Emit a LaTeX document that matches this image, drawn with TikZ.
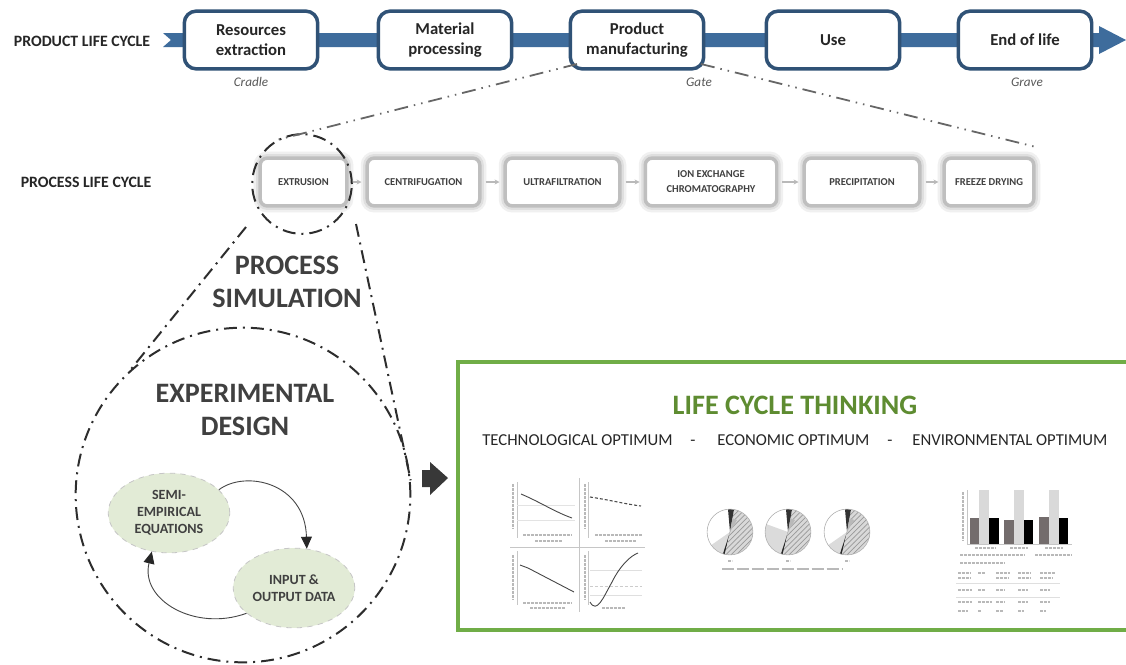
\documentclass[tikz,border=0pt]{standalone}
\usepackage{fontspec}
\setmainfont{Carlito}
\usetikzlibrary{arrows.meta,patterns,shapes.geometric}
\newdimen\pxu \pxu=0.5669pt
\definecolor{barblue}{RGB}{62,108,156}
\definecolor{boxblue}{RGB}{48,82,118}
\definecolor{txt}{RGB}{38,38,38}
\definecolor{ptxt}{RGB}{64,64,64}
\definecolor{lgreen}{RGB}{226,235,214}
\definecolor{gboxc}{RGB}{112,173,71}
\definecolor{gtitle}{RGB}{94,140,49}
\definecolor{ddash}{RGB}{45,45,45}
\definecolor{bardark}{RGB}{115,108,108}
\definecolor{barlight}{RGB}{217,217,217}
\begin{document}
\begin{tikzpicture}[x=0.02cm,y=-0.02cm,
  pbox/.style={draw=boxblue, line width=3.5\pxu, fill=white, rounded corners=12\pxu,
    minimum width=134\pxu, minimum height=58\pxu, align=center, inner sep=0pt,
    font=\fontsize{9.5}{11.5}\selectfont\bfseries, text=txt},
  stepbox/.style={rounded corners=7\pxu, fill=white, draw=gray!50, line width=3.5\pxu,
    preaction={draw=gray!12, line width=13\pxu}, preaction={draw=gray!25, line width=8\pxu},
    minimum height=48\pxu, inner sep=0pt, align=center,
    font=\fontsize{6}{8.5}\selectfont\bfseries, text=ptxt},
  parrow/.style={draw=gray!55, line width=1.2\pxu, -{Stealth[length=2.8pt,width=2.8pt]},
    shorten <=4\pxu, shorten >=4\pxu},
  ddd/.style={draw=gray!80!black, line width=1.8\pxu,
    dash pattern=on 14\pxu off 6\pxu on 1.5\pxu off 6\pxu on 1.5\pxu off 6\pxu},
  dd/.style={draw=ddash, line width=2\pxu, dash pattern=on 13\pxu off 6\pxu on 2\pxu off 6\pxu},
  ell/.style={ellipse, fill=lgreen, draw=gray!45, dashed, line width=0.8\pxu,
    minimum width=122\pxu, minimum height=80\pxu, inner sep=0pt, align=center,
    font=\fontsize{8}{9.6}\selectfont\bfseries, text=ptxt},
  cyc/.style={draw=gray!55!black, line width=0.9\pxu, -{Triangle[length=6.8pt,width=6.2pt,color=black!85]}},
  big/.style={font=\fontsize{16}{19}\selectfont\bfseries, text=ptxt, align=center},
  lbl/.style={font=\fontsize{7.5}{9}\selectfont\itshape, text=gray!70!black},
  opt/.style={anchor=base west, inner sep=0pt, font=\fontsize{9.5}{11}\selectfont, text=txt},
  thin/.style={draw=gray!45, line width=0.6\pxu},
  speck/.style={draw=gray!55, line width=1.4\pxu, dash pattern=on 3\pxu off 1\pxu},
  crv/.style={draw=gray!55!black, line width=0.9\pxu}
]
\path[use as bounding box] (0,0) rectangle (1126,664);
\clip (0,0) rectangle (1126,664);
\fill[white] (0,0) rectangle (1126,664);

% ---------------- product life cycle ----------------
\node[font=\fontsize{9}{11}\selectfont\bfseries, text=txt] (plc) at (82,41) {PRODUCT LIFE CYCLE};
\fill[barblue] (163,33) -- (1099,33) -- (1099,26) -- (1126,40) -- (1099,54) -- (1099,47)
  -- (163,47) -- (171,40) -- cycle;
\node[pbox] (res) at (251,40) {Resources\\extraction};
\node[pbox] (mat) at (445,40) {Material\\processing};
\node[pbox] (prod) at (637,40) {Product\\manufacturing};
\node[pbox] (use) at (833,40) {Use};
\node[pbox] (eol) at (1025,40) {End of life};
\node[lbl] (cradle) at (251,82) {Cradle};
\node[lbl] (gate) at (699,82) {Gate};
\node[lbl] (grave) at (1027,82) {Grave};

% ---------------- process life cycle ----------------
\node[font=\fontsize{9}{11}\selectfont\bfseries, text=txt] (prlc) at (86,182) {PROCESS LIFE CYCLE};
\node[stepbox, minimum width=87\pxu] (ex) at (303.5,182) {EXTRUSION};
\node[stepbox, minimum width=113\pxu] (ce) at (423.5,182) {CENTRIFUGATION};
\node[stepbox, minimum width=115\pxu] (uf) at (562.5,182) {ULTRAFILTRATION};
\node[stepbox, minimum width=132\pxu] (ie) at (711,182) {ION EXCHANGE\\CHROMATOGRAPHY};
\node[stepbox, minimum width=116\pxu] (pr) at (862,182) {PRECIPITATION};
\node[stepbox, minimum width=90\pxu] (fd) at (989,182) {FREEZE DRYING};
\draw[parrow] (ex) -- (ce);
\draw[parrow] (ce) -- (uf);
\draw[parrow] (uf) -- (ie);
\draw[parrow] (ie) -- (pr);
\draw[parrow] (pr) -- (fd);

% zoom circle and connectors
\node[circle, minimum size=100\pxu, inner sep=0pt, dd] (zc) at (302,184) {};
\coordinate (prl) at (577,64);
\coordinate (prr) at (701,64);
\coordinate (fdc) at (1036,147);
\draw[ddd] (prl) -- (zc.120);
\draw[ddd] (prr) -- (fdc);

% big circle
\node[circle, minimum size=336\pxu, inner sep=0pt, dd] (bc) at (243,495) {};
\coordinate (zl) at (246,227);
\coordinate (zr) at (356,224);
\draw[dd] (zl) -- (bc.132);
\draw[dd] (zr) -- (bc.5);

\node[big] (ps) at (287,282) {PROCESS\\SIMULATION};
\node[big] (ed) at (245,410) {EXPERIMENTAL\\DESIGN};

\node[ell] (semi) at (169,513) {SEMI-\\EMPIRICAL\\EQUATIONS};
\node[ell] (io) at (294,588) {INPUT \&\\OUTPUT DATA};
\draw[cyc] (semi.25) .. controls (245,470) and (305,482) .. (io.72);
\draw[cyc] (io.208) .. controls (195,632) and (140,600) .. (semi.246);

% block arrow
\fill[black!78] (422,470) -- (430,470) -- (430,462) -- (448,478) -- (430,495) -- (430,487) -- (422,487) -- cycle;

% ---------------- life cycle thinking ----------------
\draw[gboxc, line width=4\pxu] (458,362) rectangle (1140,630);
\node[font=\fontsize{16}{19}\selectfont\bfseries, text=gtitle] (lct) at (795,405) {LIFE CYCLE THINKING};
\node[opt] (to) at (482,445) {TECHNOLOGICAL OPTIMUM};
\node[opt] (d1) at (690,445) {-};
\node[opt] (eo) at (717,445) {ECONOMIC OPTIMUM};
\node[opt] (d2) at (887,445) {-};
\node[opt] (en) at (912,445) {ENVIRONMENTAL OPTIMUM};

% thumbnail 1: four line charts
\draw[thin] (579,478) -- (579,612);
\draw[thin] (510,547) -- (645,547);
% top left
\draw[thin] (517,482) -- (517,538);
\draw[draw=gray!22, line width=0.6\pxu] (517,520) -- (575,520) (517,505) -- (575,505);
\draw[crv] (521,494) .. controls (540,502) and (555,512) .. (572,518);
\draw[speck] (513,484) -- (513,528);
\draw[speck] (523,535) -- (572,535);
\draw[speck] (535,541) -- (562,541);
% top right
\draw[thin] (588,482) -- (588,538);
\draw[draw=gray!60!black, line width=1.1\pxu, dash pattern=on 3\pxu off 2\pxu] (590,497) .. controls (610,500) and (625,504) .. (641,506);
\draw[speck] (585,484) -- (585,528);
\draw[speck] (595,535) -- (642,535);
\draw[speck] (605,541) -- (636,541);
% bottom left
\draw[thin] (517,551) -- (517,605);
\draw[crv] (520,565) -- (528,568) -- (574,592);
\draw[speck] (513,555) -- (513,600);
\draw[speck] (523,603) -- (572,603);
\draw[speck] (530,608) -- (565,608);
% bottom right
\draw[thin] (588,551) -- (588,605);
\draw[draw=gray!40, line width=0.6\pxu, dash pattern=on 3\pxu off 2\pxu] (590,586) -- (642,586);
\draw[draw=gray!25, line width=0.6\pxu] (590,570) -- (642,570) (590,595) -- (642,595);
\draw[crv] (590,602) .. controls (597,614) and (603,598) .. (612,582) .. controls (620,566) and (630,556) .. (638,553);
\draw[speck] (585,555) -- (585,600);
\draw[speck] (602,608) -- (625,608);

% thumbnail 2: pies
\foreach \cx/\wa/\wb in {730/95/215, 788/95/160, 847/95/215} {
  \fill[white] (\cx,532) -- ++(\wa:23\pxu) arc[start angle=\wa, end angle=\wb, radius=23\pxu] -- cycle;
  \fill[gray!28] (\cx,532) -- ++(\wb:23\pxu) arc[start angle=\wb, end angle=252, radius=23\pxu] -- cycle;
  \fill[black!85] (\cx,532) -- ++(252:23\pxu) arc[start angle=252, end angle=257, radius=23\pxu] -- cycle;
  \fill[gray!30] (\cx,532) -- ++(-103:23\pxu) arc[start angle=-103, end angle=80, radius=23\pxu] -- cycle;
  \fill[pattern=north east lines, pattern color=gray!80] (\cx,532) -- ++(-103:23\pxu) arc[start angle=-103, end angle=80, radius=23\pxu] -- cycle;
  \fill[black!80] (\cx,532) -- ++(80:23\pxu) arc[start angle=80, end angle=95, radius=23\pxu] -- cycle;
  \fill[gray!55] (\cx,532) -- ++(60:14\pxu) arc[start angle=60, end angle=80, radius=14\pxu] -- cycle;
  \draw[draw=gray!60, line width=0.6\pxu] (\cx,532) circle[radius=23\pxu];
  \draw[speck] (\cx-2,561) -- (\cx+2,561);
}
\draw[draw=gray!55, line width=1.4\pxu, dash pattern=on 12\pxu off 3\pxu] (722,569) -- (842,569);

% thumbnail 3: bar chart and table
\draw[thin] (967,490) -- (967,544) -- (1072,544);
\draw[speck] (963,492) -- (963,541);
\fill[bardark] (970,518) rectangle (979,544);
\fill[barlight] (979,490) rectangle (989,544);
\fill[black] (989,518) rectangle (999,544);
\fill[bardark] (1004,520) rectangle (1014,544);
\fill[barlight] (1014,490) rectangle (1024,544);
\fill[black] (1024,520) rectangle (1033,544);
\fill[bardark] (1039,517) rectangle (1049,544);
\fill[barlight] (1049,490) rectangle (1059,544);
\fill[black] (1059,518) rectangle (1068,544);
\draw[speck] (975,548) -- (995,548) (1010,548) -- (1028,548) (1045,548) -- (1063,548);
\draw[speck] (960,555) -- (1025,555) (1035,555) -- (1072,555);
\draw[speck] (960,563) -- (1005,563);
\draw[speck] (958,573) -- (970,573) (978,573) -- (985,573) (996,573) -- (1010,573) (1018,573) -- (1030,573) (1040,573) -- (1055,573);
\draw[speck] (958,578) -- (970,578) (996,578) -- (1008,578) (1018,578) -- (1030,578) (1040,578) -- (1052,578);
\draw[draw=gray!25, line width=0.6\pxu] (956,583) -- (1060,583) (956,597) -- (1060,597);
\draw[speck] (958,590) -- (972,590) (978,590) -- (985,590) (996,590) -- (1005,590) (1018,590) -- (1028,590) (1040,590) -- (1050,590);
\draw[speck] (958,602) -- (972,602) (978,602) -- (992,602) (996,602) -- (1005,602) (1018,602) -- (1028,602) (1040,602) -- (1050,602);
\draw[speck] (958,611) -- (968,611) (978,611) -- (981,611) (996,611) -- (1003,611) (1018,611) -- (1024,611) (1040,611) -- (1046,611);
\end{tikzpicture}
\end{document}
